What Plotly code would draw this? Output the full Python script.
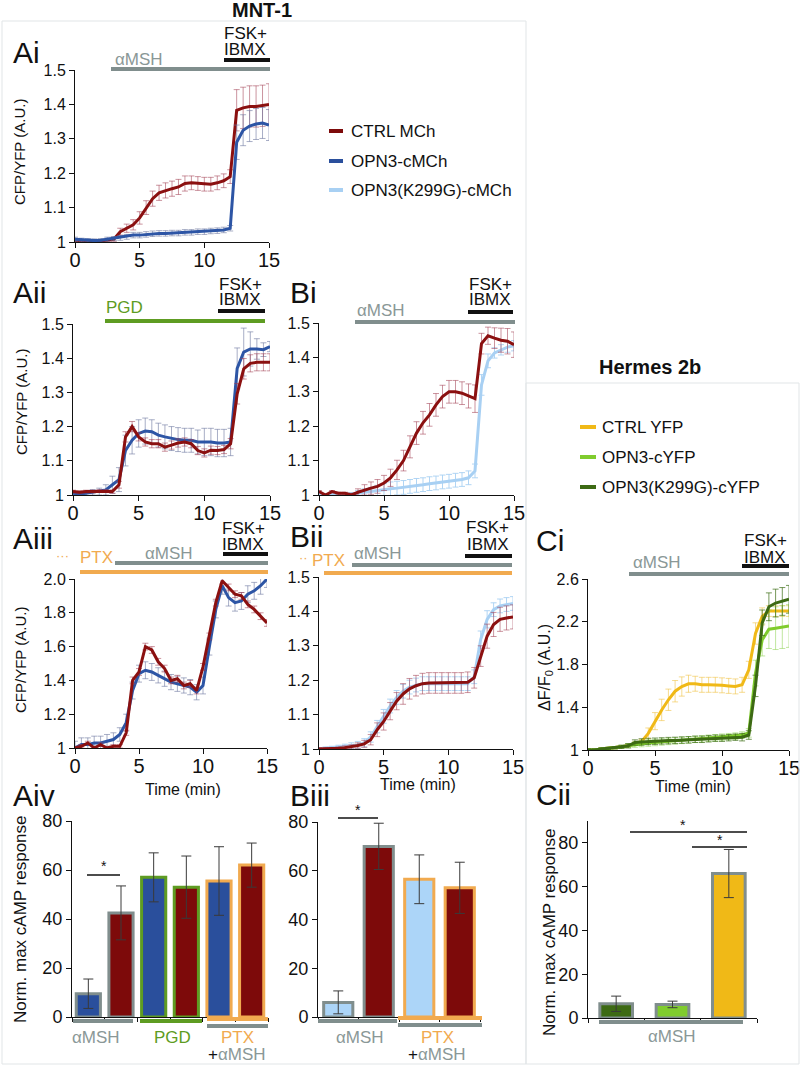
import plotly.graph_objects as go

# ---------------- data ----------------
T = [0, 0.5, 1, 1.5, 2, 2.5, 3, 3.5, 4, 4.5, 5, 5.5, 6, 6.5, 7, 7.5, 8, 8.5, 9, 9.5,
     10, 10.5, 11, 11.5, 12, 12.5, 13, 13.5, 14, 14.5, 15]

Ai_ctrl = [1.000,0.998,0.998,1.000,1.002,1.005,1.008,1.030,1.040,1.050,1.070,1.100,1.126,1.143,1.150,1.155,1.160,1.170,1.172,1.170,1.168,1.168,1.172,1.178,1.190,1.383,1.390,1.394,1.394,1.396,1.400]
Ai_ctrl_err = [0.003,0.003,0.003,0.003,0.004,0.005,0.006,0.010,0.012,0.015,0.018,0.020,0.022,0.022,0.022,0.022,0.022,0.022,0.020,0.020,0.020,0.020,0.020,0.020,0.020,0.060,0.060,0.060,0.060,0.060,0.060]
Ai_opn3 = [1.008,1.006,1.005,1.004,1.005,1.008,1.010,1.012,1.015,1.020,1.020,1.022,1.024,1.025,1.025,1.026,1.026,1.028,1.028,1.030,1.030,1.032,1.033,1.035,1.040,1.290,1.325,1.337,1.343,1.346,1.340]
Ai_opn3_err = [0.006,0.005,0.005,0.005,0.005,0.006,0.006,0.007,0.007,0.008,0.008,0.008,0.008,0.008,0.008,0.008,0.008,0.008,0.008,0.008,0.008,0.008,0.008,0.008,0.008,0.050,0.045,0.045,0.045,0.045,0.045]

Aii_ctrl = [1.010,1.008,1.010,1.010,1.012,1.012,1.010,1.030,1.170,1.200,1.170,1.155,1.150,1.150,1.140,1.146,1.152,1.155,1.150,1.130,1.123,1.131,1.130,1.133,1.150,1.296,1.369,1.385,1.388,1.388,1.388]
Aii_ctrl_err = [0.004,0.004,0.004,0.004,0.004,0.004,0.005,0.010,0.015,0.015,0.012,0.012,0.012,0.012,0.012,0.012,0.012,0.012,0.012,0.012,0.012,0.012,0.012,0.012,0.015,0.030,0.030,0.025,0.025,0.025,0.025]
Aii_opn3 = [1.005,1.003,1.005,1.008,1.010,1.015,1.030,1.045,1.130,1.160,1.180,1.187,1.185,1.175,1.170,1.165,1.162,1.160,1.160,1.155,1.155,1.155,1.152,1.152,1.155,1.370,1.418,1.427,1.427,1.425,1.434]
Aii_opn3_err = [0.006,0.006,0.006,0.008,0.010,0.015,0.025,0.035,0.045,0.040,0.040,0.038,0.035,0.035,0.035,0.035,0.035,0.035,0.035,0.035,0.040,0.040,0.040,0.040,0.040,0.060,0.070,0.050,0.030,0.020,0.015]

Aiii_ctrl = [1.000,1.010,1.030,1.000,1.020,1.000,1.010,1.010,1.090,1.400,1.450,1.600,1.580,1.510,1.470,1.400,1.410,1.370,1.380,1.340,1.480,1.660,1.860,1.990,1.950,1.910,1.900,1.850,1.820,1.780,1.740]
Aiii_ctrl_err = [0.010,0.010,0.010,0.010,0.010,0.010,0.010,0.010,0.015,0.020,0.020,0.020,0.020,0.020,0.020,0.020,0.020,0.020,0.020,0.020,0.020,0.020,0.020,0.020,0.020,0.020,0.020,0.020,0.020,0.020,0.020]
Aiii_opn3 = [1.000,1.020,1.020,1.030,1.030,1.040,1.050,1.080,1.150,1.340,1.440,1.460,1.450,1.430,1.410,1.390,1.380,1.370,1.360,1.330,1.370,1.600,1.820,1.960,1.890,1.860,1.870,1.910,1.930,1.960,2.000]
Aiii_opn3_err = [0.040,0.040,0.040,0.040,0.040,0.040,0.040,0.040,0.050,0.050,0.050,0.050,0.050,0.045,0.045,0.045,0.045,0.045,0.045,0.045,0.050,0.050,0.050,0.050,0.050,0.050,0.050,0.050,0.050,0.050,0.050]

Bi_ctrl = [1.010,1.000,1.010,1.005,1.005,1.000,1.008,1.015,1.020,1.025,1.035,1.050,1.073,1.100,1.140,1.180,1.210,1.233,1.262,1.286,1.300,1.300,1.296,1.288,1.280,1.440,1.463,1.456,1.450,1.447,1.437]
Bi_ctrl_err = [0.003,0.003,0.003,0.003,0.003,0.005,0.010,0.015,0.018,0.020,0.022,0.025,0.028,0.030,0.032,0.033,0.033,0.033,0.033,0.033,0.033,0.033,0.033,0.035,0.040,0.030,0.025,0.030,0.035,0.037,0.037]
Bi_k299g = [1.000,1.000,1.000,1.000,1.000,1.002,1.005,1.008,1.010,1.013,1.015,1.018,1.020,1.022,1.025,1.028,1.030,1.033,1.035,1.038,1.040,1.043,1.045,1.050,1.070,1.320,1.390,1.413,1.422,1.430,1.434]
Bi_k299g_err = [0.003,0.003,0.003,0.003,0.003,0.005,0.008,0.010,0.012,0.015,0.018,0.020,0.020,0.020,0.020,0.020,0.020,0.020,0.020,0.020,0.020,0.020,0.020,0.020,0.020,0.030,0.020,0.015,0.015,0.015,0.015]

Bii_ctrl = [1.000,1.000,1.000,1.002,1.004,1.006,1.010,1.015,1.027,1.056,1.080,1.110,1.139,1.160,1.175,1.184,1.190,1.192,1.192,1.192,1.192,1.192,1.192,1.194,1.207,1.270,1.328,1.362,1.377,1.381,1.384]
Bii_ctrl_err = [0.004,0.004,0.004,0.004,0.005,0.006,0.008,0.010,0.015,0.020,0.025,0.025,0.025,0.030,0.030,0.030,0.030,0.030,0.030,0.030,0.030,0.030,0.030,0.030,0.030,0.030,0.035,0.035,0.035,0.035,0.035]
Bii_k299g = [1.000,1.002,1.004,1.006,1.008,1.010,1.012,1.018,1.035,1.065,1.095,1.125,1.150,1.168,1.180,1.186,1.190,1.190,1.190,1.190,1.190,1.190,1.190,1.190,1.210,1.318,1.377,1.405,1.416,1.420,1.423]
Bii_k299g_err = [0.004,0.004,0.004,0.005,0.006,0.008,0.010,0.012,0.015,0.018,0.020,0.020,0.020,0.020,0.020,0.020,0.020,0.020,0.020,0.020,0.020,0.020,0.020,0.020,0.020,0.025,0.025,0.020,0.020,0.020,0.020]

Ci_ctrl = [1.000,1.000,1.010,1.015,1.020,1.030,1.040,1.060,1.080,1.156,1.270,1.375,1.470,1.550,1.594,1.620,1.620,1.610,1.610,1.610,1.605,1.600,1.595,1.610,1.750,2.090,2.250,2.300,2.300,2.300,2.300]
Ci_ctrl_err = [0.010,0.010,0.010,0.010,0.010,0.010,0.010,0.015,0.020,0.050,0.080,0.100,0.100,0.100,0.090,0.080,0.070,0.070,0.070,0.070,0.070,0.070,0.070,0.070,0.080,0.100,0.080,0.050,0.050,0.050,0.050]
Ci_opn3 = [1.000,1.000,1.010,1.015,1.020,1.030,1.040,1.050,1.060,1.065,1.070,1.075,1.080,1.085,1.090,1.095,1.100,1.105,1.110,1.115,1.120,1.125,1.130,1.140,1.160,1.720,2.030,2.130,2.140,2.150,2.160]
Ci_opn3_err = [0.010,0.010,0.010,0.010,0.010,0.015,0.020,0.025,0.030,0.030,0.030,0.030,0.030,0.030,0.030,0.030,0.030,0.030,0.030,0.030,0.030,0.030,0.030,0.030,0.040,0.120,0.150,0.180,0.200,0.200,0.200]
Ci_k299g = [1.000,1.000,1.010,1.015,1.020,1.030,1.040,1.070,1.075,1.080,1.082,1.085,1.088,1.090,1.093,1.095,1.100,1.100,1.105,1.110,1.110,1.115,1.120,1.120,1.140,1.600,2.190,2.340,2.375,2.390,2.410]
Ci_k299g_err = [0.010,0.010,0.010,0.010,0.010,0.015,0.020,0.025,0.030,0.030,0.030,0.030,0.030,0.030,0.030,0.030,0.030,0.030,0.030,0.030,0.030,0.030,0.030,0.035,0.040,0.100,0.120,0.130,0.130,0.130,0.130]

Aiv_cats = ["αMSH OPN3", "αMSH CTRL", "PGD OPN3", "PGD CTRL", "PTX OPN3", "PTX CTRL"]
Aiv_vals = [9.5, 42.5, 57.0, 53.0, 55.5, 62.0]
Aiv_err = [6.0, 11.0, 10.0, 12.7, 14.0, 9.0]

Biii_cats = ["αMSH K299G", "αMSH CTRL", "PTX K299G", "PTX CTRL"]
Biii_vals = [6.0, 70.0, 56.5, 53.0]
Biii_err = [4.7, 9.5, 10.0, 10.5]

Cii_cats = ["OPN3(K299G)-cYFP", "OPN3-cYFP", "CTRL YFP"]
Cii_vals = [6.5, 6.2, 66.0]
Cii_err = [3.5, 1.5, 11.0]

# ---------------- styling ----------------
W, H = 802, 1069
FONT = "Arial, 'Liberation Sans', Helvetica, sans-serif"
RED = "#8b1010"; BLUE = "#2d55a5"; LB = "#a8d0f3"
BAR_RED = "#7d0a0a"; BAR_BLUE = "#2a4f9c"; BAR_LB = "#acd5f8"
GREY = "#808e8d"; GREEN = "#5e9c22"; ORANGE = "#f1aa4f"
YEL = "#f0b917"; LG = "#80cc2e"; DG = "#3d6a14"
ERR_RED = "rgba(160,60,80,0.55)"; ERR_BLUE = "rgba(110,120,160,0.6)"
ERR_LB = "rgba(168,208,243,0.9)"; ERR_YEL = "rgba(240,195,70,0.6)"
ERR_LG = "rgba(140,210,80,0.55)"; ERR_DG = "rgba(60,110,20,0.7)"

for arr in [Ai_ctrl, Ai_ctrl_err, Ai_opn3, Ai_opn3_err, Aii_ctrl, Aii_ctrl_err, Aii_opn3, Aii_opn3_err,
            Aiii_ctrl, Aiii_ctrl_err, Aiii_opn3, Aiii_opn3_err, Bi_ctrl, Bi_ctrl_err, Bi_k299g, Bi_k299g_err,
            Bii_ctrl, Bii_ctrl_err, Bii_k299g, Bii_k299g_err, Ci_ctrl, Ci_ctrl_err, Ci_opn3, Ci_opn3_err,
            Ci_k299g, Ci_k299g_err]:
    assert len(arr) == len(T), len(arr)


def px(x):
    return x / W


def py(y):
    return 1 - y / H


fig = go.Figure()

# panel id -> (x0, x1, ytop, ybottom)
panels = {
    1: (75, 269, 70, 242),     # Ai
    2: (73, 270, 324, 495),    # Aii
    3: (319, 514, 323, 495),   # Bi
    4: (75, 267, 579, 748),    # Aiii
    5: (319, 513, 577, 749),   # Bii
    6: (588, 789, 579, 750),   # Ci
    7: (72, 268, 821, 1017),   # Aiv
    8: (318, 480, 822, 1017),  # Biii
    9: (588, 757, 821, 1018),  # Cii
}


def ax_names(i):
    return ("x" if i == 1 else f"x{i}"), ("y" if i == 1 else f"y{i}")


def add_series(i, y, err, color, ecolor):
    xa, ya = ax_names(i)
    fig.add_trace(go.Scatter(
        x=T, y=y, mode="lines", xaxis=xa, yaxis=ya,
        line=dict(color=color, width=3),
        error_y=dict(type="data", array=err, visible=True, color=ecolor, thickness=1, width=3),
        showlegend=False, hoverinfo="skip"))


add_series(1, Ai_ctrl, Ai_ctrl_err, RED, ERR_RED)
add_series(1, Ai_opn3, Ai_opn3_err, BLUE, ERR_BLUE)
add_series(2, Aii_opn3, Aii_opn3_err, BLUE, ERR_BLUE)
add_series(2, Aii_ctrl, Aii_ctrl_err, RED, ERR_RED)
add_series(3, Bi_k299g, Bi_k299g_err, LB, ERR_LB)
add_series(3, Bi_ctrl, Bi_ctrl_err, RED, ERR_RED)
add_series(4, Aiii_opn3, Aiii_opn3_err, BLUE, ERR_BLUE)
add_series(4, Aiii_ctrl, Aiii_ctrl_err, RED, ERR_RED)
add_series(5, Bii_k299g, Bii_k299g_err, LB, ERR_LB)
add_series(5, Bii_ctrl, Bii_ctrl_err, RED, ERR_RED)
add_series(6, Ci_ctrl, Ci_ctrl_err, YEL, ERR_YEL)
add_series(6, Ci_opn3, Ci_opn3_err, LG, ERR_LG)
add_series(6, Ci_k299g, Ci_k299g_err, DG, ERR_DG)


def add_bars(i, cats, vals, err, fills, borders, width):
    xa, ya = ax_names(i)
    fig.add_trace(go.Bar(
        x=cats, y=vals, xaxis=xa, yaxis=ya, width=width,
        marker=dict(color=fills, line=dict(color=borders, width=3)),
        error_y=dict(type="data", array=err, visible=True, color="#3a3a3a", thickness=1, width=5),
        showlegend=False, hoverinfo="skip"))


add_bars(7, Aiv_cats, Aiv_vals, Aiv_err,
         [BAR_BLUE, BAR_RED, BAR_BLUE, BAR_RED, BAR_BLUE, BAR_RED],
         [GREY, GREY, GREEN, GREEN, ORANGE, ORANGE], 0.74)
add_bars(8, Biii_cats, Biii_vals, Biii_err,
         [BAR_LB, BAR_RED, BAR_LB, BAR_RED], [GREY, GREY, ORANGE, ORANGE], 0.72)
add_bars(9, Cii_cats, Cii_vals, Cii_err, [DG, LG, YEL], [GREY, GREY, GREY], 0.58)

layout = dict(width=W, height=H, autosize=False,
              margin=dict(l=0, r=0, t=0, b=0, pad=0, autoexpand=False),
              paper_bgcolor="white", plot_bgcolor="white", font=dict(family=FONT, color="#111"),
              bargap=0.2)

common = dict(showgrid=False, zeroline=False, showline=True, linecolor="#111", linewidth=1,
              ticks="outside", ticklen=5, tickcolor="#111", automargin=False)

yticks = {
    1: ([1, 1.1, 1.2, 1.3, 1.4, 1.5], ["1", "1.1", "1.2", "1.3", "1.4", "1.5"], [1, 1.5]),
    2: ([1, 1.1, 1.2, 1.3, 1.4, 1.5], ["1", "1.1", "1.2", "1.3", "1.4", "1.5"], [1, 1.5]),
    3: ([1, 1.1, 1.2, 1.3, 1.4, 1.5], ["1", "1.1", "1.2", "1.3", "1.4", "1.5"], [1, 1.5]),
    4: ([1, 1.2, 1.4, 1.6, 1.8, 2.0], ["1", "1.2", "1.4", "1.6", "1.8", "2.0"], [1, 2.0]),
    5: ([1, 1.1, 1.2, 1.3, 1.4, 1.5], ["1", "1.1", "1.2", "1.3", "1.4", "1.5"], [1, 1.5]),
    6: ([1, 1.4, 1.8, 2.2, 2.6], ["1", "1.4", "1.8", "2.2", "2.6"], [1, 2.6]),
    7: ([0, 20, 40, 60, 80], ["0", "20", "40", "60", "80"], [0, 80]),
    8: ([0, 20, 40, 60, 80], ["0", "20", "40", "60", "80"], [0, 80]),
    9: ([0, 20, 40, 60, 80], ["0", "20", "40", "60", "80"], [0, 90]),
}

for i, (x0, x1, yt, yb) in panels.items():
    xk = "xaxis" if i == 1 else f"xaxis{i}"
    yk = "yaxis" if i == 1 else f"yaxis{i}"
    xa, ya = ax_names(i)
    tv, tt, rng = yticks[i]
    if i <= 6:
        layout[xk] = dict(common, domain=[px(x0), px(x1)], range=[0, 15], anchor=ya,
                          tickvals=[0, 5, 10, 15], ticktext=["0", "5", "10", "15"],
                          ticklabelstandoff=-5,
                          tickfont=dict(size=20, family=FONT, color="#111"))
    else:
        layout[xk] = dict(common, domain=[px(x0), px(x1)], anchor=ya, type="category",
                          showticklabels=False, tickson="boundaries", ticklen=4)
    layout[yk] = dict(common, domain=[py(yb), py(yt)], range=rng, anchor=xa,
                      tickvals=tv, ticktext=tt,
                      tickfont=dict(size=16 if i <= 6 else 18, family=FONT, color="#111"))

shapes = []
annotations = []


def hline(x0, x1, y, color, w=4):
    shapes.append(dict(type="line", xref="paper", yref="paper", x0=px(x0), x1=px(x1),
                       y0=py(y), y1=py(y), line=dict(color=color, width=w)))


def text(x, y, s, size=17, color="#111", xanchor="center", bold=False, angle=0):
    if bold:
        s = f"<b>{s}</b>"
    annotations.append(dict(x=px(x), y=py(y), xref="paper", yref="paper", text=s, showarrow=False,
                            xanchor=xanchor, yanchor="middle", textangle=angle,
                            font=dict(size=size, color=color, family=FONT)))


# frames
shapes.append(dict(type="rect", xref="paper", yref="paper", x0=px(2), x1=px(526), y0=py(1064), y1=py(21),
                   line=dict(color="#e1e5e7", width=1)))
shapes.append(dict(type="rect", xref="paper", yref="paper", x0=px(526), x1=px(799), y0=py(1064), y1=py(383),
                   line=dict(color="#e1e5e7", width=1)))

text(262, 10, "MNT-1", size=20, bold=True)
text(650, 367, "Hermes 2b", size=20, bold=True)

# panel labels
for lab, x, y in [("Ai", 11, 53), ("Aii", 11, 292), ("Bi", 288, 292), ("Aiii", 11, 538),
                  ("Bii", 288, 536), ("Ci", 534, 540), ("Aiv", 11, 795), ("Biii", 288, 795),
                  ("Cii", 534, 794)]:
    text(x, y, lab, size=30, xanchor="left")


def fsk(xc, y1, y2, x0, x1, yb):
    text(xc, y1, "FSK+", size=17)
    text(xc, y2, "IBMX", size=17)
    hline(x0, x1, yb, "#111")


GREYTXT = "#8a9897"
# Ai
fsk(245, 33, 49, 224, 270, 60)
hline(111, 270, 69, GREY)
text(139, 60, "αMSH", color=GREYTXT)
# Aii
fsk(240, 284, 299, 218, 265, 311)
hline(105, 265, 321, GREEN)
text(124, 307, "PGD", color=GREEN)
# Bi
fsk(490, 284, 299, 468, 513, 312)
hline(355, 515, 322, GREY)
text(381, 310, "αMSH", color=GREYTXT)
# Aiii
fsk(243, 528, 544, 223, 268, 554)
hline(115, 268, 563, GREY)
hline(80, 268, 572, ORANGE)
text(169, 553, "αMSH", color=GREYTXT)
text(62, 555, "···", size=13, color=ORANGE)
text(96, 557, "PTX", color=ORANGE)
# Bii
fsk(488, 527, 544, 465, 512, 556)
hline(352, 512, 565, GREY)
hline(324, 512, 573, ORANGE)
text(378, 553, "αMSH", color=GREYTXT)
text(303, 557, "··", size=13, color=ORANGE)
text(328, 560, "PTX", color=ORANGE)
# Ci
fsk(765, 540, 557, 742, 789, 566)
hline(629, 789, 574, GREY)
text(657, 562, "αMSH", color=GREYTXT)

# axis titles
text(19, 152, "CFP/YFP (A.U.)", size=15, angle=-90)
text(21, 402, "CFP/YFP (A.U.)", size=15, angle=-90)
text(20, 660, "CFP/YFP (A.U.)", size=15, angle=-90)
text(545, 668, "ΔF/F<sub>0</sub> (A.U.)", size=16, angle=-90)
text(20, 919, "Norm. max cAMP response", size=17, angle=-90)
text(549, 932, "Norm. max cAMP response", size=17, angle=-90)
text(183, 789, "Time (min)", size=16)
text(418, 784, "Time (min)", size=16)
text(693, 786, "Time (min)", size=16)

# legends
for lab, col, y in [("CTRL MCh", BAR_RED, 131), ("OPN3-cMCh", BAR_BLUE, 161), ("OPN3(K299G)-cMCh", LB, 190)]:
    hline(329, 343, y, col, w=4)
    text(349, y, lab, size=17, xanchor="left")
for lab, col, y in [("CTRL YFP", YEL, 427), ("OPN3-cYFP", LG, 457), ("OPN3(K299G)-cYFP", DG, 487)]:
    hline(580, 596, y, col, w=4)
    text(600, y, lab, size=17, xanchor="left")

# bar-chart group underlines and labels
hline(73, 133, 1021, GREY)
hline(140, 202, 1021, GREEN)
hline(207, 268, 1019, ORANGE)
hline(207, 268, 1026, GREY)
text(96, 1037, "αMSH", color=GREYTXT)
text(172, 1037, "PGD", color=GREEN)
text(237, 1037, "PTX", color=ORANGE)
text(237, 1054, "+<span style='color:%s'>αMSH</span>" % GREYTXT)

hline(318, 397, 1021, GREY)
hline(398, 482, 1018, ORANGE)
hline(398, 482, 1025, GREY)
text(360, 1037, "αMSH", color=GREYTXT)
text(437, 1037, "PTX", color=ORANGE)
text(437, 1054, "+<span style='color:%s'>αMSH</span>" % GREYTXT)

hline(599, 743, 1022, GREY)
text(672, 1036, "αMSH", color=GREYTXT)

# significance
hline(87, 120, 875, "#111", w=1.5)
text(104, 866, "*", size=14)
hline(338, 378, 818, "#111", w=1.5)
text(358, 810, "*", size=14)
hline(630, 747, 832, "#111", w=1.5)
text(683, 825, "*", size=14)
hline(692, 747, 847, "#111", w=1.5)
text(720, 840, "*", size=14)

layout["shapes"] = shapes
layout["annotations"] = annotations
fig.update_layout(**layout)
fig.write_html("out.html", config={"displayModeBar": False},
               post_script="document.body.style.margin='0';document.body.style.overflow='hidden';")
